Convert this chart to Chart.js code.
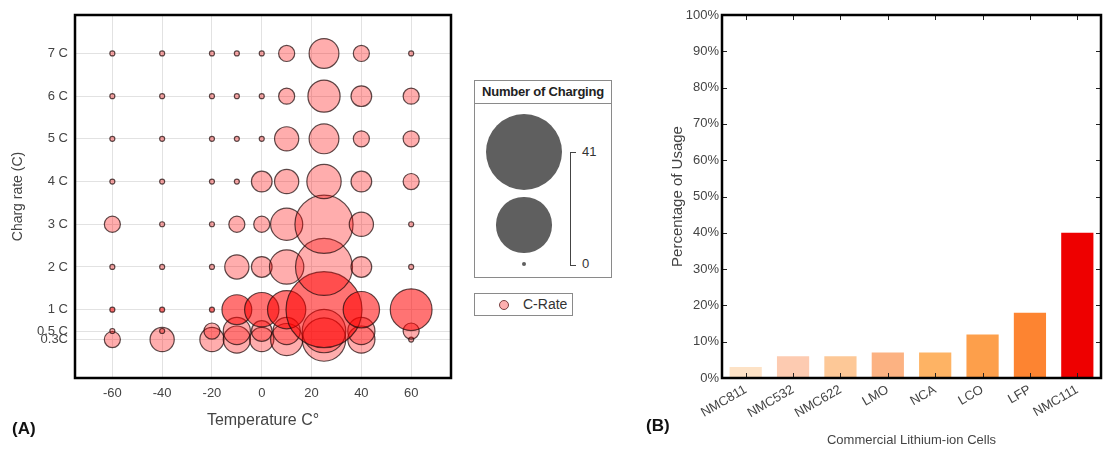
<!DOCTYPE html>
<html>
<head>
<meta charset="utf-8">
<script src="https://cdn.jsdelivr.net/npm/chart.js@4"></script>
<style>
  body { margin: 0; background: #fff; width: 1105px; height: 452px; position: relative; overflow: hidden;
         font-family: "Liberation Sans", Arial, sans-serif; }
  .box { position: absolute; }
  #legSize { left: 474px; top: 80px; width: 136px; height: 196px; border: 1px solid #8a8a8a; }
  #legSize .head { height: 22px; border-bottom: 1px solid #8a8a8a; font-weight: bold; font-size: 13px;
                   line-height: 22px; text-align: center; color: #222; letter-spacing: -0.2px; }
  .dot { position: absolute; background: #5f5f5f; border-radius: 50%; }
  .lbl { position: absolute; font-size: 13px; color: #333; }
  #legRate { left: 474px; top: 293px; width: 97px; height: 21px; border: 1px solid #8a8a8a; }
  .tag { position: absolute; font-weight: bold; font-size: 17px; color: #111; }
</style>
</head>
<body>
<div class="box" style="left:0;top:0;width:460px;height:452px"><canvas id="bubbleChart"></canvas></div>
<div class="box" style="left:640px;top:0;width:465px;height:452px"><canvas id="barChart"></canvas></div>
<div id="legSize" class="box"><div class="head">Number of Charging</div></div>
<div id="legRate" class="box"></div>
<div class="tag" style="left:12px;top:419px">(A)</div>
<div class="tag" style="left:646px;top:416px">(B)</div>

<script>
// panel A: number of charging tests per temperature and C-rate
const temps = [-60, -40, -20, -10, 0, 10, 25, 40, 60];
const tempTicks = [-60, -40, -20, 0, 20, 40, 60];
const cRates = [7, 6, 5, 4, 3, 2, 1, 0.5, 0.3];
const rateLabels = ["7 C", "6 C", "5 C", "4 C", "3 C", "2 C", "1 C", "0.5 C", "0.3C"];
const count7C  = [0, 0, 0, 0, 0, 1, 5, 1, 0];
const count6C  = [0, 0, 0, 0, 0, 1, 6, 2, 1];
const count5C  = [0, 0, 0, 0, 0, 3, 5, 1, 1];
const count4C  = [0, 0, 0, 0, 2, 3, 7, 2, 1];
const count3C  = [1, 0, 0, 1, 1, 6, 23, 3, 0];
const count2C  = [0, 0, 0, 3, 2, 7, 22, 2, 0];
const count1C  = [0, 0, 0, 5, 7, 9, 41, 8, 11];
const count05C = [0, 0, 1, 4, 2, 4, 12, 4, 1];
const count03C = [1, 3, 3, 4, 3, 6, 12, 4, 0];
const countMax = 41;

// panel B: usage of commercial cells
const cells = ["NMC811", "NMC532", "NMC622", "LMO", "NCA", "LCO", "LFP", "NMC111"];
const usage = [3, 6, 6, 7, 7, 12, 18, 40];
const cellColors = ["#fde2c6", "#fdcbb1", "#fdc897", "#fcb282", "#feb364", "#fd9f4b", "#fd8431", "#ee0000"];

const rows = [count7C, count6C, count5C, count4C, count3C, count2C, count1C, count05C, count03C];

function radius(n) {
    return 2.5 + 35.5 * Math.sqrt(n / countMax);
}

const frame = {
    id: "frame",
    afterDraw(chart) {
        const a = chart.chartArea, ctx = chart.ctx;
        ctx.save();
        ctx.strokeStyle = "#000";
        ctx.lineWidth = 2.5;
        ctx.strokeRect(a.left, a.top, a.right - a.left, a.bottom - a.top);
        ctx.restore();
    }
};

const innerTicks = {
    id: "innerTicks",
    afterDatasetsDraw(chart) {
        const a = chart.chartArea, ctx = chart.ctx;
        const xs = chart.scales.x, ys = chart.scales.y;
        ctx.save();
        ctx.strokeStyle = "#222";
        ctx.lineWidth = 1;
        ctx.beginPath();
        xs.ticks.forEach((t, i) => {
            const px = Math.round(xs.getPixelForTick(i)) + 0.5;
            ctx.moveTo(px, a.bottom); ctx.lineTo(px, a.bottom - 5);
            ctx.moveTo(px, a.top); ctx.lineTo(px, a.top + 5);
        });
        ys.ticks.forEach((t, i) => {
            const py = Math.round(ys.getPixelForTick(i)) + 0.5;
            ctx.moveTo(a.right, py); ctx.lineTo(a.right - 5, py);
            ctx.moveTo(a.left, py); ctx.lineTo(a.left + 5, py);
        });
        ctx.stroke();
        ctx.restore();
    }
};

function renderBubbleChart() {
    const ctx = document.getElementById("bubbleChart");
    new Chart(ctx, {
        type: "bubble",
        data: {
            datasets: rows.map((counts, i) => ({
                label: rateLabels[i],
                data: temps.map((t, j) => ({ x: t, y: cRates[i], r: radius(counts[j]) })),
                backgroundColor: cRates[i] === 1 ? "rgba(255,0,0,0.55)" : "rgba(255,0,0,0.32)",
                borderColor: "rgba(30,10,10,0.72)",
                borderWidth: 1.2
            }))
        },
        options: {
            responsive: true,
            maintainAspectRatio: false,
            animation: false,
            layout: { autoPadding: false, padding: { left: 0, right: 9, top: 15, bottom: 0 } },
            plugins: { legend: { display: false }, tooltip: { enabled: false } },
            scales: {
                x: {
                    type: "linear", min: -75, max: 76,
                    afterBuildTicks: s => { s.ticks = tempTicks.map(v => ({ value: v })); },
                    afterFit: s => { s.height = 74; },
                    grid: { color: "#e2e2e2", drawTicks: false },
                    border: { display: false },
                    ticks: { padding: 8, color: "#444", font: { size: 13, family: "Liberation Sans" } },
                    title: { display: true, text: "Temperature C°", color: "#444",
                             font: { size: 16, family: "Liberation Sans" }, padding: { bottom: 22 } }
                },
                y: {
                    type: "linear", min: -0.6, max: 7.9,
                    afterBuildTicks: s => { s.ticks = cRates.map(v => ({ value: v })); },
                    afterFit: s => { s.width = 75; },
                    grid: { color: "#e2e2e2", drawTicks: false },
                    border: { display: false },
                    ticks: {
                        autoSkip: false, padding: 7, color: "#444",
                        font: { size: 13, family: "Liberation Sans" },
                        callback: v => rateLabels[cRates.indexOf(v)]
                    },
                    title: { display: true, text: "Charg rate (C)", color: "#444",
                             font: { size: 14, family: "Liberation Sans" }, padding: { top: 10 } }
                }
            }
        },
        plugins: [frame]
    });
}

function renderBarChart() {
    const ctx = document.getElementById("barChart");
    new Chart(ctx, {
        type: "bar",
        data: {
            labels: cells,
            datasets: [{
                label: "Percentage of Usage",
                data: usage,
                backgroundColor: cellColors,
                barPercentage: 0.68,
                categoryPercentage: 1
            }]
        },
        options: {
            responsive: true,
            maintainAspectRatio: false,
            animation: false,
            layout: { autoPadding: false, padding: { left: 0, right: 4, top: 15, bottom: 0 } },
            plugins: { legend: { display: false }, tooltip: { enabled: false } },
            scales: {
                x: {
                    afterFit: s => { s.height = 74; },
                    grid: { display: false, drawTicks: false },
                    border: { display: false },
                    ticks: { minRotation: 30, maxRotation: 30, padding: 4, color: "#444",
                             font: { size: 13, family: "Liberation Sans" } },
                    title: { display: true, text: "Commercial Lithium-ion Cells", color: "#444",
                             font: { size: 13, family: "Liberation Sans" }, padding: { bottom: 4 } }
                },
                y: {
                    min: 0, max: 100,
                    afterFit: s => { s.width = 82; },
                    grid: { display: false, drawTicks: false },
                    border: { display: false },
                    ticks: { stepSize: 10, padding: 3, color: "#444",
                             font: { size: 13, family: "Liberation Sans" },
                             callback: v => v + "%" },
                    title: { display: true, text: "Percentage of Usage", color: "#444",
                             font: { size: 15, family: "Liberation Sans" }, padding: { top: 29 } }
                }
            }
        },
        plugins: [innerTicks, frame]
    });
}

function renderLegends() {
    const box = document.getElementById("legSize");
    // size legend: max, half and zero counts, centred on x = 50 inside the box
    [[countMax, 71], [countMax / 2, 144], [0, 183]].forEach(([n, cy]) => {
        const r = n === 0 ? 2 : radius(n);
        const d = document.createElement("div");
        d.className = "dot";
        d.style.cssText = `left:${49 - r}px;top:${cy - r}px;width:${2 * r}px;height:${2 * r}px`;
        box.appendChild(d);
    });
    const br = document.createElement("div");
    br.style.cssText = "position:absolute;left:95px;top:71px;width:5px;height:112px;border:1px solid #444;border-right:none";
    box.appendChild(br);
    const hi = document.createElement("div");
    hi.className = "lbl"; hi.textContent = String(countMax);
    hi.style.cssText = "left:107px;top:63px";
    box.appendChild(hi);
    const lo = document.createElement("div");
    lo.className = "lbl"; lo.textContent = "0";
    lo.style.cssText = "left:107px;top:175px";
    box.appendChild(lo);

    const rate = document.getElementById("legRate");
    rate.innerHTML = '<div style="position:absolute;left:24px;top:6px;width:8px;height:8px;border-radius:50%;' +
        'background:#ffb0b0;border:1px solid #7a4040"></div>' +
        '<div style="position:absolute;left:48px;top:2px;font-size:14px;color:#333">C-Rate</div>';
}

renderBubbleChart();
renderBarChart();
renderLegends();
</script>
</body>
</html>
